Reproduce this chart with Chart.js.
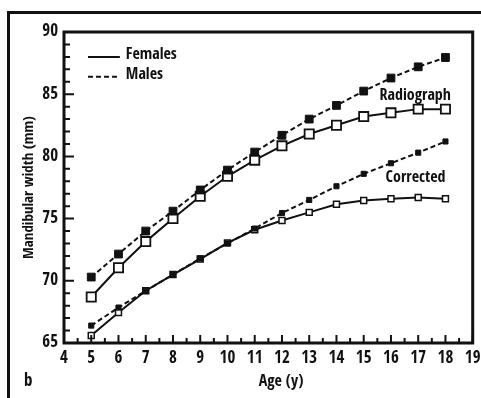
<!DOCTYPE html>
<html>
<head>
<meta charset="utf-8">
<script src="https://cdn.jsdelivr.net/npm/chart.js@4.4.0/dist/chart.umd.min.js"></script>
<style>
  html, body { margin: 0; padding: 0; background: #fff; }
  #wrap { width: 481px; height: 398px; }
</style>
</head>
<body>
<div id="wrap"><canvas id="myChart" width="481" height="398"></canvas></div>
<script>
// ages and mandibular width values (mm)
var ages = [5, 6, 7, 8, 9, 10, 11, 12, 13, 14, 15, 16, 17, 18];
var radioMales   = [70.3, 72.15, 74.0, 75.6, 77.3, 78.9, 80.35, 81.7, 83.0, 84.1, 85.25, 86.3, 87.2, 87.95];
var radioFemales = [68.7, 71.05, 73.15, 75.0, 76.8, 78.4, 79.7, 80.85, 81.8, 82.5, 83.2, 83.5, 83.8, 83.8];
var corrMales    = [66.4, 67.85, 69.2, 70.5, 71.8, 73.0, 74.2, 75.45, 76.5, 77.6, 78.6, 79.45, 80.3, 81.2];
var corrFemales  = [65.6, 67.45, 69.2, 70.5, 71.75, 73.05, 74.1, 74.85, 75.5, 76.15, 76.45, 76.6, 76.7, 76.6];
var xTicks = [4, 5, 6, 7, 8, 9, 10, 11, 12, 13, 14, 15, 16, 17, 18, 19];
var yTicks = [65, 70, 75, 80, 85, 90];

var FONT = '"Open Sans Condensed", "Roboto Condensed", sans-serif';

function pts(vals) {
    return ages.map(function (a, i) { return { x: a, y: vals[i] }; });
}

// frame, inward ticks, legend and labels
var decorations = {
    id: 'decorations',
    afterDraw: function (chart) {
        var c = chart.ctx, a = chart.chartArea;
        var xs = chart.scales.x, ys = chart.scales.y;
        c.save();
        c.strokeStyle = '#111';
        c.fillStyle = '#111';

        // outer figure frame
        c.lineWidth = 3;
        c.beginPath();
        c.moveTo(8.5, 398);
        c.lineTo(8.5, 12.5);
        c.lineTo(481, 12.5);
        c.stroke();

        // plot frame
        c.strokeRect(a.left, a.top, a.right - a.left, a.bottom - a.top);

        // x ticks, every half year
        c.lineWidth = 2;
        c.beginPath();
        for (var v = 4; v <= 19; v += 0.5) {
            var px = xs.getPixelForValue(v);
            var len = (v % 1 === 0) ? 8 : 5;
            c.moveTo(px, a.bottom);
            c.lineTo(px, a.bottom - len);
        }
        // y ticks, every mm
        for (var w = 65; w <= 90; w += 1) {
            var py = ys.getPixelForValue(w);
            var l = (w % 5 === 0) ? 10 : 6;
            c.moveTo(a.left, py);
            c.lineTo(a.left + l, py);
        }
        c.stroke();

        // legend
        var lx = xs.getPixelForValue(4.88), lx2 = xs.getPixelForValue(6.05);
        var ly1 = ys.getPixelForValue(88.0), ly2 = ys.getPixelForValue(86.4);
        c.lineWidth = 2;
        c.beginPath();
        c.moveTo(lx, ly1); c.lineTo(lx2, ly1);
        c.stroke();
        c.setLineDash([5, 3]);
        c.beginPath();
        c.moveTo(lx, ly2); c.lineTo(lx2, ly2);
        c.stroke();
        c.setLineDash([]);

        c.font = 'bold 16px ' + FONT;
        c.textBaseline = 'middle';
        c.textAlign = 'left';
        c.fillText('Females', lx2 + 6, ly1 - 2);
        c.fillText('Males', lx2 + 6, ly2 - 2);

        // curve labels
        c.textAlign = 'right';
        c.fillText('Radiograph', xs.getPixelForValue(18.2), ys.getPixelForValue(84.9));
        c.fillText('Corrected', xs.getPixelForValue(18.0), ys.getPixelForValue(78.3));

        // x axis title (sits right of centre in the original)
        c.textAlign = 'center';
        c.fillText('Age (y)', 281, 382);

        // panel letter
        c.textAlign = 'left';
        c.font = 'bold 17px ' + FONT;
        c.fillText('b', 24, 382);
        c.restore();
    }
};

var ctx = document.getElementById('myChart').getContext('2d');
var myChart = new Chart(ctx, {
    type: 'scatter',
    data: {
        datasets: [{
            label: 'Radiograph males',
            data: pts(radioMales),
            showLine: true,
            borderColor: '#111',
            borderWidth: 2,
            borderDash: [5, 3],
            pointStyle: 'rect',
            pointRadius: 5.5,
            pointBackgroundColor: '#111',
            pointBorderColor: '#111',
            pointBorderWidth: 1
        }, {
            label: 'Radiograph females',
            data: pts(radioFemales),
            showLine: true,
            borderColor: '#111',
            borderWidth: 2,
            pointStyle: 'rect',
            pointRadius: 6.5,
            pointBackgroundColor: '#fff',
            pointBorderColor: '#111',
            pointBorderWidth: 1.8
        }, {
            label: 'Corrected males',
            data: pts(corrMales),
            showLine: true,
            borderColor: '#111',
            borderWidth: 2,
            borderDash: [5, 3],
            pointStyle: 'rect',
            pointRadius: 3.6,
            pointBackgroundColor: '#111',
            pointBorderColor: '#111',
            pointBorderWidth: 1
        }, {
            label: 'Corrected females',
            data: pts(corrFemales),
            showLine: true,
            borderColor: '#111',
            borderWidth: 2,
            pointStyle: 'rect',
            pointRadius: 4.2,
            pointBackgroundColor: '#fff',
            pointBorderColor: '#111',
            pointBorderWidth: 1.5
        }]
    },
    options: {
        responsive: false,
        animation: false,
        events: [],
        layout: { padding: { left: 0, right: 8, top: 32, bottom: 0 } },
        plugins: {
            legend: { display: false },
            tooltip: { enabled: false }
        },
        scales: {
            x: {
                type: 'linear',
                min: 4,
                max: 19,
                afterFit: function (s) { s.height = 55; s.paddingLeft = 0; s.paddingRight = 0; },
                afterBuildTicks: function (s) { s.ticks = xTicks.map(function (v) { return { value: v }; }); },
                grid: { display: false, drawTicks: false },
                border: { display: false },
                ticks: {
                    color: '#111',
                    padding: 5,
                    maxRotation: 0,
                    autoSkip: false,
                    font: { family: FONT, size: 17, weight: 'bold' }
                },
                title: { display: false }
            },
            y: {
                type: 'linear',
                min: 65,
                max: 90,
                afterFit: function (s) { s.width = 64; s.paddingTop = 0; s.paddingBottom = 0; },
                afterBuildTicks: function (s) { s.ticks = yTicks.map(function (v) { return { value: v }; }); },
                grid: { display: false, drawTicks: false },
                border: { display: false },
                ticks: {
                    color: '#111',
                    padding: 6,
                    font: { family: FONT, size: 17, weight: 'bold' }
                },
                title: {
                    display: true,
                    text: 'Mandibular width (mm)',
                    color: '#111',
                    padding: { top: 20, bottom: 0 },
                    font: { family: FONT, size: 15, weight: 'bold' }
                }
            }
        }
    },
    plugins: [decorations]
});
</script>
</body>
</html>
